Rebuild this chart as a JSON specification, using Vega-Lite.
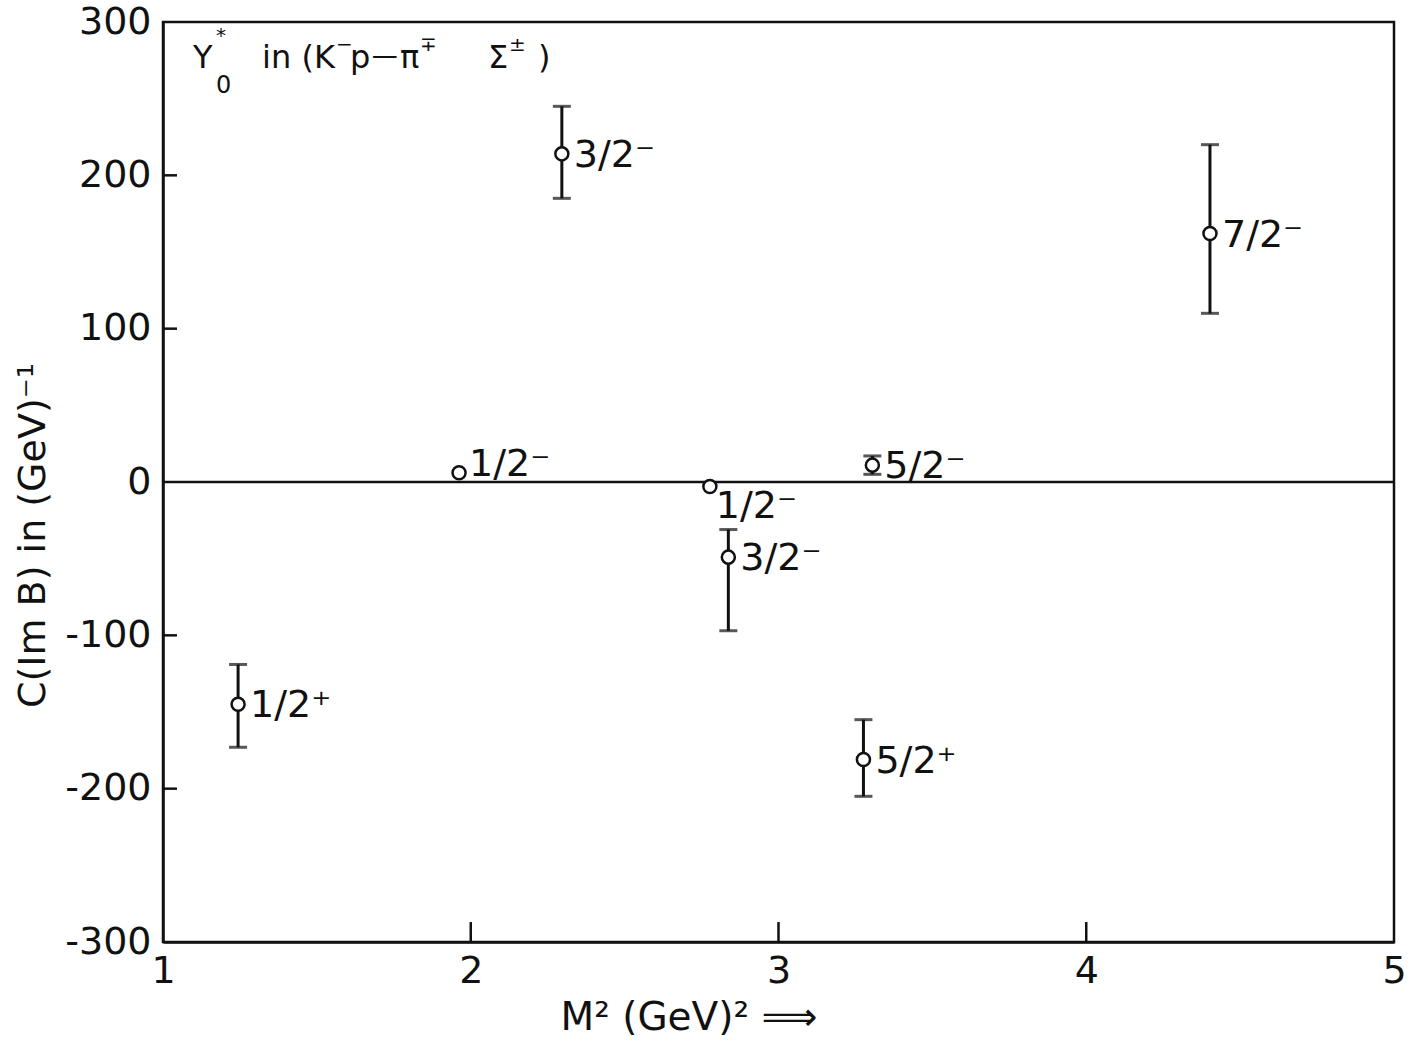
{
  "$schema": "https://vega.github.io/schema/vega-lite/v6.json",
  "width": 1231,
  "height": 920,
  "autosize": {"type": "none"},
  "padding": {"left": 163, "top": 22, "right": 29, "bottom": 103},
  "background": "white",
  "config": {
    "font": "DejaVu Sans",
    "view": {"stroke": "#111", "strokeWidth": 2.5},
    "axis": {
      "domainColor": "#111",
      "domainWidth": 2.5,
      "ticks": false,
      "tickSize": 0,
      "grid": false,
      "labelColor": "#111",
      "titleColor": "#111",
      "labelFont": "DejaVu Sans",
      "titleFont": "DejaVu Sans",
      "labelFontWeight": "normal",
      "titleFontWeight": "normal"
    }
  },
  "datasets": {
    "resonances": [
      {"M2": 1.244, "C": -145, "lo": -173, "hi": -119, "jp": "1/2⁺"},
      {"M2": 1.962, "C": 6, "lo": null, "hi": null, "jp": "1/2⁻"},
      {"M2": 2.296, "C": 214, "lo": 185, "hi": 245, "jp": "3/2⁻"},
      {"M2": 2.777, "C": -3, "lo": null, "hi": null, "jp": "1/2⁻"},
      {"M2": 2.837, "C": -49, "lo": -97, "hi": -31, "jp": "3/2⁻"},
      {"M2": 3.305, "C": 11, "lo": 5, "hi": 17, "jp": "5/2⁻"},
      {"M2": 3.276, "C": -181, "lo": -205, "hi": -155, "jp": "5/2⁺"},
      {"M2": 4.402, "C": 162, "lo": 110, "hi": 220, "jp": "7/2⁻"}
    ],
    "x_ticks": [{"v": 2}, {"v": 3}, {"v": 4}],
    "y_ticks": [{"v": -200}, {"v": -100}, {"v": 100}, {"v": 200}],
    "caption": [
      {"x": 1.0975, "y": 270, "t": "Y"},
      {"x": 1.322, "y": 270, "t": "in (K"},
      {"x": 1.6076, "y": 270, "t": "p"},
      {"x": 1.77, "y": 270, "t": "π"},
      {"x": 2.056, "y": 270, "t": "Σ"},
      {"x": 2.2185, "y": 270, "t": ")"}
    ],
    "caption_dash": [
      {"x": 1.678, "y": 270, "t": "—"}
    ],
    "caption_sup": [
      {"x": 1.172, "y": 291, "t": "*"},
      {"x": 1.562, "y": 285, "t": "−"},
      {"x": 1.835, "y": 285, "t": "∓"},
      {"x": 2.124, "y": 285, "t": "±"}
    ],
    "caption_sub": [
      {"x": 1.172, "y": 258, "t": "0"}
    ]
  },
  "encoding": {
    "x": {
      "type": "quantitative",
      "scale": {"domain": [1, 5], "nice": false, "zero": false},
      "axis": {
        "title": "M²  (GeV)²  ⟹",
        "values": [1, 2, 3, 4, 5],
        "format": "d",
        "labelPadding": 10,
        "labelFontSize": 38,
        "labelFlush": false,
        "titleFontSize": 39,
        "titleAnchor": "start",
        "titleAlign": "left",
        "titleBaseline": "alphabetic",
        "titleX": 397,
        "titleY": 87
      }
    },
    "y": {
      "type": "quantitative",
      "scale": {"domain": [-300, 300], "nice": false, "zero": false},
      "axis": {
        "title": "C(Im B)   in   (GeV)⁻¹",
        "values": [-300, -200, -100, 0, 100, 200, 300],
        "labelExpr": "'' + datum.value",
        "labelPadding": 12,
        "labelFontSize": 38,
        "labelFlush": false,
        "titleFontSize": 38,
        "titleAngle": -90,
        "titleAlign": "center",
        "titleBaseline": "middle",
        "titleX": -130,
        "titleY": 513
      }
    }
  },
  "layer": [
    {
      "data": {"values": [{}]},
      "mark": {"type": "rule", "color": "#111", "strokeWidth": 2.5},
      "encoding": {"y": {"datum": 0}}
    },
    {
      "data": {"name": "x_ticks"},
      "mark": {"type": "tick", "orient": "vertical", "size": 20, "thickness": 2.5, "color": "#111", "opacity": 1},
      "encoding": {
        "x": {"field": "v"},
        "y": {"datum": -293.5}
      }
    },
    {
      "data": {"name": "y_ticks"},
      "mark": {"type": "tick", "orient": "horizontal", "size": 14, "thickness": 2.5, "color": "#111", "opacity": 1},
      "encoding": {
        "y": {"field": "v"},
        "x": {"datum": 1.0227}
      }
    },
    {
      "data": {"name": "resonances"},
      "transform": [{"filter": "datum.lo != null"}],
      "mark": {
        "type": "errorbar",
        "color": "#111",
        "thickness": 3,
        "ticks": {"size": 18, "color": "#111"}
      },
      "encoding": {
        "x": {"field": "M2"},
        "y": {"field": "lo"},
        "y2": {"field": "hi"}
      }
    },
    {
      "data": {"name": "resonances"},
      "mark": {
        "type": "point",
        "shape": "circle",
        "size": 170,
        "filled": true,
        "fill": "white",
        "stroke": "#111",
        "strokeWidth": 2.5,
        "opacity": 1
      },
      "encoding": {
        "x": {"field": "M2"},
        "y": {"field": "C"}
      }
    },
    {
      "data": {"name": "resonances"},
      "transform": [{"filter": "(datum.M2 > 2 && (datum.M2 < 2.7 || datum.M2 > 2.8)) || datum.M2 < 1.5"}],
      "mark": {
        "type": "text",
        "align": "left",
        "baseline": "middle",
        "dx": 12,
        "dy": 2,
        "fontSize": 38,
        "color": "#111"
      },
      "encoding": {
        "x": {"field": "M2"},
        "y": {"field": "C"},
        "text": {"field": "jp"}
      }
    },
    {
      "data": {"name": "resonances"},
      "transform": [{"filter": "datum.M2 > 1.9 && datum.M2 < 2"}],
      "mark": {
        "type": "text",
        "align": "left",
        "baseline": "middle",
        "dx": 10,
        "dy": -8,
        "fontSize": 38,
        "color": "#111"
      },
      "encoding": {
        "x": {"field": "M2"},
        "y": {"field": "C"},
        "text": {"field": "jp"}
      }
    },
    {
      "data": {"name": "resonances"},
      "transform": [{"filter": "datum.M2 > 2.7 && datum.M2 < 2.8"}],
      "mark": {
        "type": "text",
        "align": "left",
        "baseline": "middle",
        "dx": 6,
        "dy": 20,
        "fontSize": 38,
        "color": "#111"
      },
      "encoding": {
        "x": {"field": "M2"},
        "y": {"field": "C"},
        "text": {"field": "jp"}
      }
    },
    {
      "data": {"name": "caption"},
      "mark": {"type": "text", "align": "left", "baseline": "alphabetic", "fontSize": 32, "color": "#111"},
      "encoding": {
        "x": {"field": "x"},
        "y": {"field": "y"},
        "text": {"field": "t"}
      }
    },
    {
      "data": {"name": "caption_dash"},
      "mark": {"type": "text", "align": "left", "baseline": "alphabetic", "fontSize": 26, "dy": -4, "color": "#111"},
      "encoding": {
        "x": {"field": "x"},
        "y": {"field": "y"},
        "text": {"field": "t"}
      }
    },
    {
      "data": {"name": "caption_sup"},
      "mark": {"type": "text", "align": "left", "baseline": "middle", "fontSize": 20, "color": "#111"},
      "encoding": {
        "x": {"field": "x"},
        "y": {"field": "y"},
        "text": {"field": "t"}
      }
    },
    {
      "data": {"name": "caption_sub"},
      "mark": {"type": "text", "align": "left", "baseline": "middle", "fontSize": 24, "color": "#111"},
      "encoding": {
        "x": {"field": "x"},
        "y": {"field": "y"},
        "text": {"field": "t"}
      }
    }
  ]
}
